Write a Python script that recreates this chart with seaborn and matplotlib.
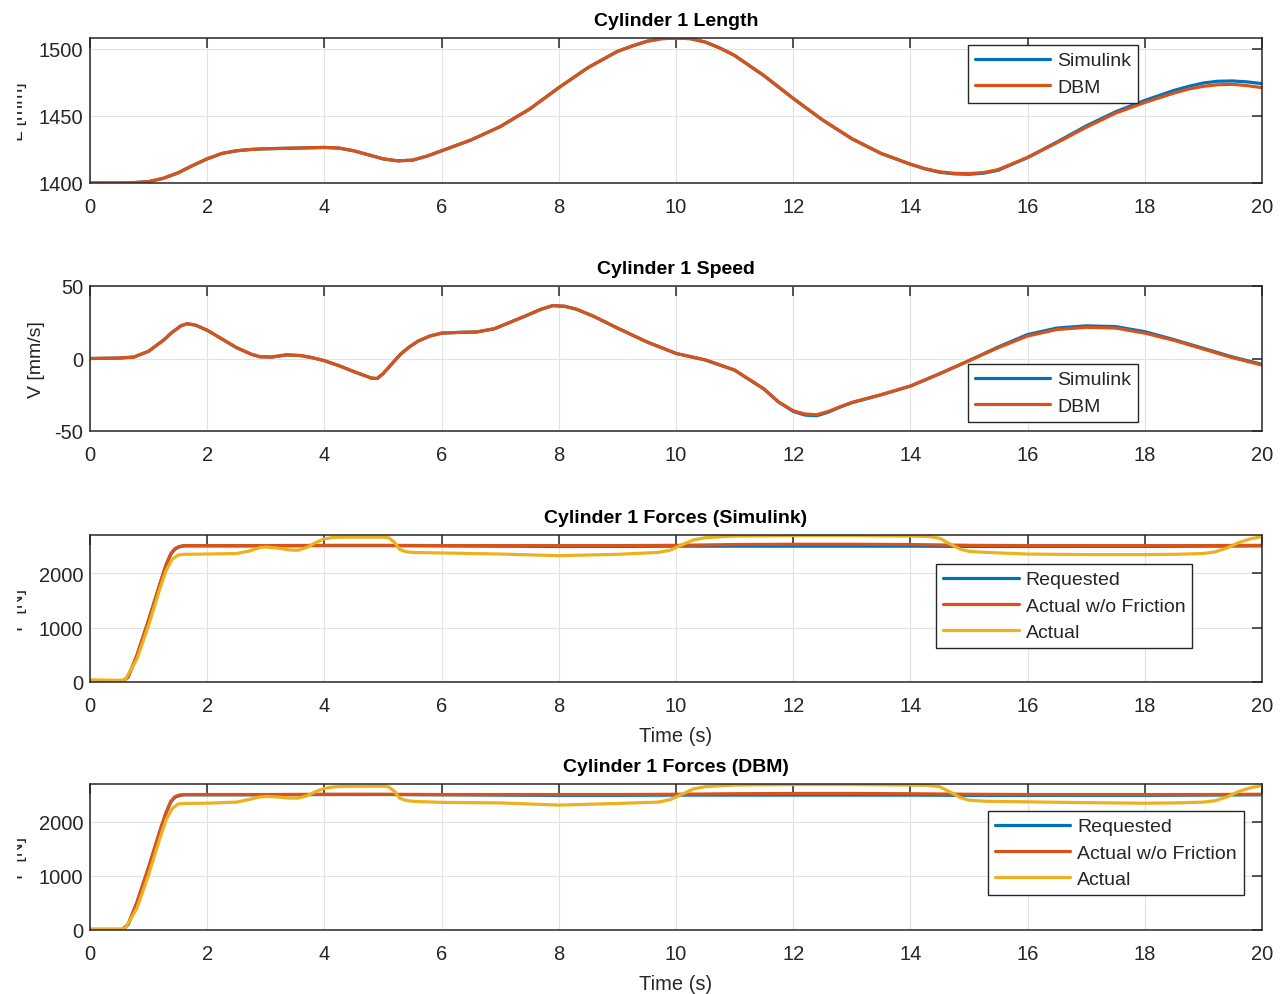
import matplotlib
matplotlib.use("Agg")
import matplotlib.pyplot as plt
import seaborn as sns
from matplotlib.transforms import Bbox, TransformedBbox

# ---------------- data ----------------
t_len = [0, 0.5, 0.75, 1.0, 1.25, 1.5, 1.75, 2.0, 2.25, 2.5, 2.75, 3, 3.5, 4, 4.25, 4.5,
         4.75, 5, 5.25, 5.5, 5.75, 6, 6.5, 7, 7.5, 8, 8.5, 9, 9.25, 9.5, 9.75, 10, 10.25,
         10.5, 10.75, 11, 11.5, 12, 12.5, 13, 13.5, 14, 14.25, 14.5, 14.75, 15, 15.25,
         15.5, 16, 16.5, 17, 17.5, 18, 18.5, 18.75, 19, 19.25, 19.5, 19.75, 20]
len_sim = [1400, 1400, 1400.3, 1401, 1403.5, 1407.5, 1413, 1418, 1422, 1424, 1425, 1425.5,
           1426, 1426.5, 1426, 1424, 1421, 1418, 1416.5, 1417, 1420, 1424, 1432, 1442,
           1455, 1471, 1486, 1498, 1502, 1505.5, 1507.5, 1508, 1507.5, 1505, 1500.5, 1495,
           1480, 1463, 1447, 1433, 1422, 1414, 1410.5, 1408, 1406.8, 1406.5, 1407.3,
           1409.5, 1419, 1430.5, 1442.5, 1453, 1461.5, 1469, 1472, 1474.5, 1475.8, 1476,
           1475.3, 1474]
len_dbm = [1400, 1400, 1400.3, 1401, 1403.5, 1407.5, 1413, 1418, 1422, 1424, 1425, 1425.5,
           1426, 1426.5, 1426, 1424, 1421, 1418, 1416.5, 1417, 1420, 1424, 1432, 1442,
           1455, 1471, 1486, 1498, 1502, 1505.5, 1507.5, 1508, 1507.5, 1505, 1500.5, 1495,
           1480, 1463, 1447, 1433, 1422, 1414, 1410.7, 1408.3, 1407.2, 1407, 1407.8,
           1410, 1419, 1430, 1441.5, 1452, 1460, 1467, 1470, 1472, 1473.2, 1473.5,
           1472.5, 1471]

t_spd = [0, 0.5, 0.75, 1.0, 1.25, 1.4, 1.55, 1.66, 1.8, 2.0, 2.25, 2.5, 2.75, 2.9, 3.1,
         3.35, 3.6, 3.8, 4.0, 4.25, 4.5, 4.7, 4.8, 4.9, 5.0, 5.1, 5.2, 5.3, 5.45, 5.6,
         5.8, 6.0, 6.3, 6.6, 6.9, 7.2, 7.5, 7.7, 7.9, 8.1, 8.3, 8.6, 9.0, 9.5, 10.0, 10.5,
         11.0, 11.5, 11.75, 12.0, 12.2, 12.4, 12.6, 12.8, 13.0, 13.5, 14.0, 14.5, 15.0,
         15.5, 16.0, 16.5, 17.0, 17.5, 18.0, 18.5, 19.0, 19.5, 20.0]
spd_sim = [0, 0.3, 1, 5, 12.5, 18, 22.5, 24, 23, 19.5, 13.5, 7.5, 3, 1.2, 1, 2.5, 2, 0.5,
           -1.5, -5, -9, -12, -13.5, -13.8, -10.5, -6, -1.5, 3, 8, 12, 15.5, 17.5, 18,
           18.3, 20.5, 25.5, 30.5, 34, 36.5, 36, 34, 29, 21, 11.5, 3.5, -1, -8, -21, -30,
           -36.5, -39, -39.5, -37, -33.5, -30.5, -25, -19, -10.5, -1.5, 8, 16.5, 21, 22.5,
           22, 18.5, 13, 7, 1, -4]
spd_dbm = [0, 0.3, 1, 5, 12.5, 18, 22.5, 24, 23, 19.5, 13.5, 7.5, 3, 1.2, 1, 2.5, 2, 0.5,
           -1.5, -5, -9, -12, -13.5, -13.8, -10.5, -6, -1.5, 3, 8, 12, 15.5, 17.5, 18,
           18.3, 20.5, 25.5, 30.5, 34, 36.5, 36, 34, 29, 21, 11.5, 3.5, -1, -8, -21, -30,
           -36, -38.3, -38.8, -36.5, -33.3, -30.3, -25, -19, -10.5, -1.5, 7.5, 15.5, 20,
           21.5, 21, 17.5, 12.5, 6.5, 0.5, -4.5]

t_cmd = [0, 0.5, 0.55, 0.65, 0.8, 1.0, 1.2, 1.3, 1.38, 1.45, 1.52, 1.6, 2, 3, 4, 5, 6, 7,
         8, 9, 10, 11, 12, 13, 14, 15, 16, 17, 18, 19, 20]
req_sim = [0, 0, 5, 90, 480, 1130, 1820, 2150, 2350, 2440, 2480, 2500, 2500, 2500, 2505,
           2505, 2500, 2495, 2490, 2490, 2495, 2495, 2495, 2495, 2495, 2490, 2490, 2490,
           2490, 2495, 2500]
nof_sim = [0, 0, 5, 95, 490, 1140, 1830, 2160, 2360, 2450, 2490, 2505, 2505, 2505, 2510,
           2510, 2505, 2505, 2505, 2505, 2510, 2525, 2530, 2530, 2525, 2510, 2505, 2505,
           2505, 2505, 2510]
req_dbm = [0, 0, 5, 100, 500, 1150, 1850, 2170, 2370, 2455, 2485, 2500, 2500, 2500, 2505,
           2505, 2500, 2495, 2490, 2490, 2495, 2495, 2495, 2495, 2495, 2490, 2490, 2490,
           2490, 2495, 2500]
nof_dbm = [0, 0, 5, 105, 510, 1160, 1860, 2180, 2380, 2465, 2495, 2505, 2505, 2505, 2510,
           2510, 2505, 2505, 2505, 2505, 2510, 2520, 2525, 2525, 2520, 2510, 2505, 2505,
           2505, 2505, 2510]

t_act = [0, 0.5, 0.6, 0.8, 1.0, 1.2, 1.3, 1.4, 1.5, 1.6, 2.0, 2.5, 2.7, 2.9, 3.0, 3.2,
         3.4, 3.55, 3.7, 3.85, 4.0, 4.15, 4.3, 5.0, 5.1, 5.2, 5.28, 5.38, 5.5, 6.0, 7.0,
         8.0, 9.0, 9.7, 9.9, 10.1, 10.3, 10.5, 10.8, 11.0, 12.0, 13.0, 14.0, 14.3, 14.5,
         14.7, 14.85, 15.0, 15.3, 16.0, 17.0, 18.0, 18.5, 19.0, 19.2, 19.4, 19.6, 19.8, 20.0]
act_sim = [40, 30, 40, 420, 1040, 1740, 2050, 2250, 2330, 2345, 2350, 2360, 2400, 2470,
           2480, 2460, 2425, 2420, 2470, 2560, 2630, 2655, 2660, 2660, 2650, 2560, 2440,
           2395, 2380, 2370, 2350, 2320, 2345, 2380, 2420, 2520, 2610, 2650, 2670, 2680,
           2690, 2690, 2680, 2675, 2640, 2520, 2440, 2400, 2380, 2350, 2340, 2340, 2345,
           2360, 2390, 2460, 2560, 2630, 2670]
act_dbm = [20, 20, 30, 400, 1020, 1720, 2040, 2240, 2330, 2340, 2345, 2365, 2410, 2460,
           2470, 2460, 2440, 2440, 2480, 2560, 2620, 2645, 2655, 2660, 2645, 2560, 2440,
           2400, 2380, 2360, 2350, 2310, 2340, 2365, 2410, 2510, 2610, 2650, 2670, 2680,
           2690, 2690, 2680, 2675, 2650, 2540, 2450, 2400, 2380, 2370, 2355, 2345, 2350,
           2365, 2390, 2460, 2560, 2630, 2670]

x_ticks = [0, 2, 4, 6, 8, 10, 12, 14, 16, 18, 20]
titles = ["Cylinder 1 Length", "Cylinder 1 Speed", "Cylinder 1 Forces (Simulink)",
          "Cylinder 1 Forces (DBM)"]
ylabels = ["L [mm]", "V [mm/s]", "F [N]", "F [N]"]
xlabel_txt = "Time (s)"

# ---------------- style ----------------
sns.set_style("white")
plt.rcParams['font.family'] = ['Liberation Sans', 'DejaVu Sans']
plt.rcParams['axes.unicode_minus'] = False
DARK = '#262626'
BLUE, ORANGE, YELLOW = '#0072BD', '#D95319', '#EDB120'
LW = 2.3

W, H = 1286, 995
fig = plt.figure(figsize=(W / 100, H / 100), dpi=100)
fig.patch.set_facecolor('white')


def rect(l, t, r, b):
    return [l / W, 1 - b / H, (r - l) / W, (b - t) / H]


axes = [fig.add_axes(rect(90, 39, 1262, 184)),
        fig.add_axes(rect(90, 287, 1262, 432)),
        fig.add_axes(rect(90, 536, 1262, 683)),
        fig.add_axes(rect(90, 785, 1262, 931))]

clip = TransformedBbox(Bbox.from_extents(17 / W, 0, 1, 1), fig.transFigure)


def line(ax, x, y, color, label):
    sns.lineplot(x=x, y=y, ax=ax, color=color, linewidth=LW, label=label,
                 estimator=None, sort=False)


def style(ax, ylim, yticks, title, ylabel, ylab_x, legpos, xlabel_y=None):
    ax.set_xlim(0, 20)
    ax.set_ylim(*ylim)
    ax.set_xticks(x_ticks)
    ax.set_yticks(yticks)
    ax.tick_params(direction='in', length=7, width=1.1, top=True, right=True,
                   labelsize=14.5, colors=DARK)
    ax.tick_params(axis='x', pad=10)
    ax.tick_params(axis='y', pad=5)
    ax.grid(True, color='#e2e2e2', lw=0.8)
    ax.set_axisbelow(True)
    for s in ax.spines.values():
        s.set_visible(True)
        s.set_color(DARK)
        s.set_linewidth(1.1)
    ax.set_title(title, fontsize=14, fontweight='bold', pad=9.5, color='black')
    ax.set_ylabel(ylabel, fontsize=14, color=DARK)
    ax.yaxis.set_label_coords(ylab_x, 0.5)
    ax.yaxis.label.set_clip_box(clip)
    ax.yaxis.label.set_clip_on(True)
    if xlabel_y is not None:
        ax.set_xlabel(xlabel_txt, fontsize=14.5, color=DARK)
        ax.xaxis.set_label_coords(0.5, xlabel_y)
    else:
        ax.set_xlabel('')
    leg = ax.legend(loc='upper left', bbox_to_anchor=legpos, frameon=True,
                    fancybox=False, framealpha=1, edgecolor=DARK, fontsize=14,
                    handlelength=3.9, handletextpad=0.35, borderpad=0.35,
                    labelspacing=0.45, borderaxespad=0)
    leg.get_frame().set_linewidth(1.0)
    for txt in leg.get_texts():
        txt.set_color(DARK)


# Panel 1: length
ax = axes[0]
line(ax, t_len, len_sim, BLUE, "Simulink")
line(ax, t_len, len_dbm, ORANGE, "DBM")
style(ax, (1400, 1508), [1400, 1450, 1500], titles[0], ylabels[0], -0.0538,
      (0.749, 0.952))

# Panel 2: speed
ax = axes[1]
line(ax, t_spd, spd_sim, BLUE, "Simulink")
line(ax, t_spd, spd_dbm, ORANGE, "DBM")
style(ax, (-50, 50), [-50, 0, 50], titles[1], ylabels[1], -0.0384, (0.749, 0.462))

# Panel 3: forces Simulink
ax = axes[2]
line(ax, t_cmd, req_sim, BLUE, "Requested")
line(ax, t_cmd, nof_sim, ORANGE, "Actual w/o Friction")
line(ax, t_act, act_sim, YELLOW, "Actual")
style(ax, (0, 2700), [0, 1000, 2000], titles[2], ylabels[2], -0.0538,
      (0.722, 0.803), xlabel_y=-0.30)

# Panel 4: forces DBM
ax = axes[3]
line(ax, t_cmd, req_dbm, BLUE, "Requested")
line(ax, t_cmd, nof_dbm, ORANGE, "Actual w/o Friction")
line(ax, t_act, act_dbm, YELLOW, "Actual")
style(ax, (0, 2700), [0, 1000, 2000], titles[3], ylabels[3], -0.0538,
      (0.766, 0.815), xlabel_y=-0.30)

fig.savefig("out.png", dpi=100, facecolor='white')
